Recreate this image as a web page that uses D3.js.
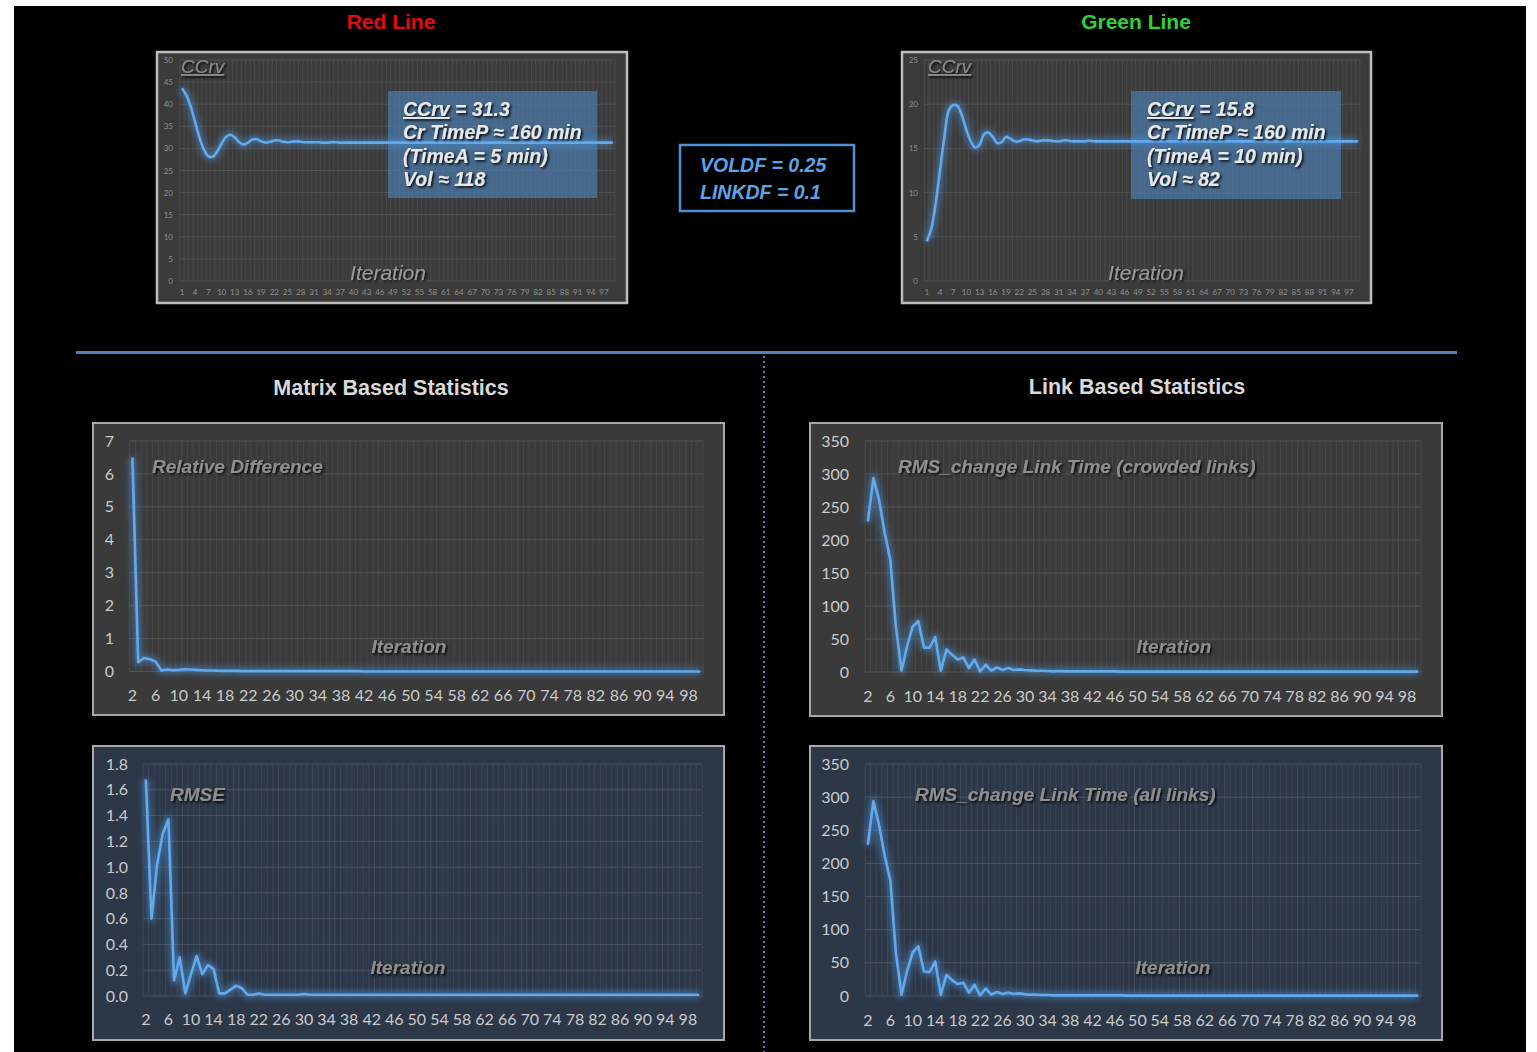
<!DOCTYPE html>
<html>
<head>
<meta charset="utf-8">
<script src="https://cdn.jsdelivr.net/npm/d3@7"></script>
<style>
  html, body { margin: 0; padding: 0; background: #ffffff; }
  svg { display: block; }
</style>
</head>
<body>
<svg id="chart" width="1537" height="1052"></svg>
<script>
// ---------- data ----------
// Iteration numbers
const ccrvIterations = d3.range(1, 100);      // 1 .. 99
const statIterations = d3.range(2, 101);      // 2 .. 100

// CCrv convergence, red line
const ccrvRed = [
  43.6,42.0,39.4,35.9,32.4,29.7,28.2,28.1,29.3,31.1,
  32.6,33.1,32.5,31.4,30.9,31.3,32.0,32.1,31.6,31.3,
  31.5,31.8,31.8,31.5,31.4,31.5,31.6,31.5,31.4,31.4,
  31.4,31.4,31.3,31.3,31.4,31.4,31.3,31.3,31.3,31.3,
  31.3,31.3,31.3,31.3,31.3,31.3,31.3,31.3,31.3,31.3,
  31.3,31.3,31.3,31.3,31.3,31.3,31.3,31.3,31.3,31.3,
  31.3,31.3,31.3,31.3,31.3,31.3,31.3,31.3,31.3,31.3,
  31.3,31.3,31.3,31.3,31.3,31.3,31.3,31.3,31.3,31.3,
  31.3,31.3,31.3,31.3,31.3,31.3,31.3,31.3,31.3,31.3,
  31.3,31.3,31.3,31.3,31.3,31.3,31.3,31.3,31.3
];

// CCrv convergence, green line
const ccrvGreen = [
  4.5,5.9,8.7,12.5,16.3,19.3,19.9,19.8,18.7,17.1,
  15.8,15.1,15.4,16.6,16.8,16.3,15.6,15.7,16.3,16.1,
  15.8,15.8,16.0,16.0,15.9,15.8,15.9,15.9,15.9,15.8,
  15.8,15.9,15.9,15.8,15.8,15.8,15.8,15.9,15.8,15.8,
  15.8,15.8,15.8,15.8,15.8,15.8,15.8,15.8,15.8,15.8,
  15.8,15.8,15.8,15.8,15.8,15.8,15.8,15.8,15.8,15.8,
  15.8,15.8,15.8,15.8,15.8,15.8,15.8,15.8,15.8,15.8,
  15.8,15.8,15.8,15.8,15.8,15.8,15.8,15.8,15.8,15.8,
  15.8,15.8,15.8,15.8,15.8,15.8,15.8,15.8,15.8,15.8,
  15.8,15.8,15.8,15.8,15.8,15.8,15.8,15.8,15.8
];

// Matrix based: relative difference
const relativeDifference = [
  6.5,0.28,0.41,0.37,0.30,0.03,0.06,0.04,0.05,0.07,
  0.06,0.05,0.04,0.03,0.03,0.02,0.02,0.02,0.02,0.01,
  0.01,0.01,0.01,0.01,0.01,0.01,0.01,0.01,0.01,0.01,
  0.01,0.01,0.01,0.01,0.01,0.01,0.01,0.01,0.01,0.01,
  0.0,0.0,0.0,0.0,0.0,0.0,0.0,0.0,0.0,0.0,
  0.0,0.0,0.0,0.0,0.0,0.0,0.0,0.0,0.0,0.0,
  0.0,0.0,0.0,0.0,0.0,0.0,0.0,0.0,0.0,0.0,
  0.0,0.0,0.0,0.0,0.0,0.0,0.0,0.0,0.0,0.0,
  0.0,0.0,0.0,0.0,0.0,0.0,0.0,0.0,0.0,0.0,
  0.0,0.0,0.0,0.0,0.0,0.0,0.0,0.0,0.0
];

// Matrix based: RMSE
const rmse = [
  1.68,0.60,1.02,1.26,1.37,0.12,0.30,0.02,0.17,0.31,
  0.17,0.24,0.21,0.02,0.02,0.05,0.08,0.06,0.01,0.01,
  0.02,0.01,0.01,0.01,0.01,0.01,0.01,0.01,0.015,0.01,
  0.01,0.01,0.01,0.01,0.01,0.01,0.01,0.01,0.01,0.01,
  0.01,0.01,0.01,0.01,0.01,0.01,0.01,0.01,0.01,0.01,
  0.01,0.01,0.01,0.01,0.01,0.01,0.01,0.01,0.01,0.01,
  0.01,0.01,0.01,0.01,0.01,0.01,0.01,0.01,0.01,0.01,
  0.01,0.01,0.01,0.01,0.01,0.01,0.01,0.01,0.01,0.01,
  0.01,0.01,0.01,0.01,0.01,0.01,0.01,0.01,0.01,0.01,
  0.01,0.01,0.01,0.01,0.01,0.01,0.01,0.01,0.01
];

// Link based: RMS change of link time, crowded links
const rmsCrowded = [
  228,294,261,211,170,69,2,39,69,77,
  37,37,53,2,34,26,19,22,6,19,
  1,11,2,7,3,6,3,4,3,2.5,
  2,2,1.5,1,1.5,1,1,1,1,1,
  1,1,1,1,1,0.5,0.5,0.5,0.5,0.5,
  0.5,0.5,0.5,0.5,0.5,0.5,0.5,0.5,0.5,0.5,
  0.5,0.5,0.5,0.5,0.5,0.5,0.5,0.5,0.5,0.5,
  0.5,0.5,0.5,0.5,0.5,0.5,0.5,0.5,0.5,0.5,
  0.5,0.5,0.5,0.5,0.5,0.5,0.5,0.5,0.5,0.5,
  0.5,0.5,0.5,0.5,0.5,0.5,0.5,0.5,0.5
];

// Link based: RMS change of link time, all links
const rmsAll = [
  228,294,258,212,175,65,2,38,66,75,
  37,36,52,2,32,24,18,20,5,17,
  1,11,2,6,3,5,3,4,2.5,2,
  2,1.5,1.5,1,1,1,1,1,1,1,
  1,1,1,1,1,1,0.5,0.5,0.5,0.5,
  0.5,0.5,0.5,0.5,0.5,0.5,0.5,0.5,0.5,0.5,
  0.5,0.5,0.5,0.5,0.5,0.5,0.5,0.5,0.5,0.5,
  0.5,0.5,0.5,0.5,0.5,0.5,0.5,0.5,0.5,0.5,
  0.5,0.5,0.5,0.5,0.5,0.5,0.5,0.5,0.5,0.5,
  0.5,0.5,0.5,0.5,0.5,0.5,0.5,0.5,0.5
];

// Axis ticks
const ticksRed = [0,5,10,15,20,25,30,35,40,45,50];
const ticksGreen = [0,5,10,15,20,25];
const ticksRelDiff = [0,1,2,3,4,5,6,7];
const ticksRmse = [0,0.2,0.4,0.6,0.8,1.0,1.2,1.4,1.6,1.8];
const ticksRms = [0,50,100,150,200,250,300,350];

// Text blocks
const redInfo = ["CCrv = 31.3", "Cr TimeP \u2248 160 min", "(TimeA = 5 min)", "Vol \u2248 118"];
const greenInfo = ["CCrv = 15.8", "Cr TimeP \u2248 160 min", "(TimeA = 10 min)", "Vol \u2248 82"];
const dampingLines = ["VOLDF = 0.25", "LINKDF = 0.1"];

// ---------- drawing ----------
const svg = d3.select("#chart");
const defs = svg.append("defs");

const glow = defs.append("filter").attr("id", "glow")
  .attr("filterUnits", "userSpaceOnUse")
  .attr("x", 0).attr("y", 0).attr("width", 1537).attr("height", 1052);
glow.append("feGaussianBlur").attr("stdDeviation", 3.4);

const shadow = defs.append("filter").attr("id", "shadow")
  .attr("filterUnits", "userSpaceOnUse")
  .attr("x", 0).attr("y", 0).attr("width", 1537).attr("height", 1052);
shadow.append("feDropShadow").attr("dx", 1.6).attr("dy", 1.6)
  .attr("stdDeviation", 0.9).attr("flood-color", "#000").attr("flood-opacity", 0.9);

// page background
svg.append("rect").attr("x", 14).attr("y", 6).attr("width", 1512).attr("height", 1046).attr("fill", "#000");

const ARIAL = "'Liberation Sans', Arial, sans-serif";
const CALIBRI = "Lato, 'Open Sans', sans-serif";

function drawPanel(cfg) {
  const g = svg.append("g");
  const [bx, by, bw, bh] = cfg.box;
  g.append("rect").attr("x", bx).attr("y", by).attr("width", bw).attr("height", bh)
    .attr("fill", cfg.bg).attr("stroke", cfg.border).attr("stroke-width", cfg.borderW);

  const x = d3.scaleBand().domain(cfg.cats).range([cfg.x0, cfg.x1]);
  const y = d3.scaleLinear().domain([0, d3.max(cfg.yTicks)]).range([cfg.yBottom, cfg.yTop]);
  const half = x.bandwidth() / 2;

  // vertical grid lines on category boundaries
  const edges = cfg.cats.map(c => x(c)).concat([cfg.x1]);
  g.append("g").selectAll("line").data(edges).join("line")
    .attr("x1", d => d).attr("x2", d => d)
    .attr("y1", cfg.yTop).attr("y2", cfg.yBottom)
    .attr("stroke", cfg.vgrid).attr("stroke-width", 1);

  // horizontal grid lines
  g.append("g").selectAll("line").data(cfg.yTicks).join("line")
    .attr("x1", cfg.x0).attr("x2", cfg.x1)
    .attr("y1", d => y(d)).attr("y2", d => y(d))
    .attr("stroke", cfg.hgrid).attr("stroke-width", 1);

  // y axis labels
  const yAxis = d3.axisLeft(y).tickValues(cfg.yTicks).tickSize(0).tickPadding(0).tickFormat(cfg.yFmt);
  const yg = g.append("g").attr("transform", `translate(${cfg.yLabelX},0)`).call(yAxis)
    .attr("font-family", CALIBRI).attr("font-size", cfg.labelSize).attr("color", cfg.labelColor);
  yg.select(".domain").remove();

  // x axis labels
  const xAxis = d3.axisBottom(x).tickValues(cfg.cats.filter((c, i) => i % cfg.step === 0))
    .tickSize(0).tickPadding(0);
  const xg = g.append("g").attr("transform", `translate(0,${cfg.xLabelY})`).call(xAxis)
    .attr("font-family", CALIBRI).attr("font-size", cfg.labelSize).attr("color", cfg.labelColor);
  xg.select(".domain").remove();

  // optional info box (under the line)
  if (cfg.info) {
    const b = cfg.info;
    g.append("rect").attr("x", b.x).attr("y", b.y).attr("width", b.w).attr("height", b.h)
      .attr("fill", "#4a7aaa").attr("opacity", 0.72);
  }

  // series line with soft glow
  const pts = cfg.cats.map((c, i) => [x(c) + half, y(cfg.values[i])]);
  const line = d3.line().curve(cfg.curve);
  g.append("path").attr("d", line(pts)).attr("fill", "none")
    .attr("stroke", "#4f98e0").attr("stroke-width", 7.5).attr("opacity", 0.5)
    .attr("stroke-linejoin", "round").attr("filter", "url(#glow)");
  g.append("path").attr("d", line(pts)).attr("fill", "none")
    .attr("stroke", "#62a9ee").attr("stroke-width", 2.6).attr("stroke-linejoin", "round");

  if (cfg.info) {
    const b = cfg.info;
    const t = g.append("text").attr("font-family", ARIAL).attr("font-style", "italic")
      .attr("font-weight", "bold").attr("font-size", 19.5).attr("fill", "#e8e8e8")
      .attr("filter", "url(#shadow)");
    b.lines.forEach((s, i) => {
      const ts = t.append("tspan").attr("x", b.tx).attr("y", b.ty + i * 23.3);
      if (i === 0) {
        const k = s.indexOf(" ");
        ts.append("tspan").attr("text-decoration", "underline").text(s.slice(0, k));
        ts.append("tspan").text(s.slice(k));
      } else {
        ts.text(s);
      }
    });
  }

  // in-chart titles
  cfg.titles.forEach(tt => {
    const t = g.append("text").attr("x", tt.x).attr("y", tt.y)
      .attr("text-anchor", tt.anchor || "start")
      .attr("font-family", ARIAL).attr("font-style", "italic")
      .attr("font-weight", tt.weight || "bold").attr("font-size", tt.size)
      .attr("fill", tt.color || "#8e8e8e").attr("filter", "url(#shadow)")
      .text(tt.text);
    if (tt.underline) t.attr("text-decoration", "underline");
  });
}

// ---- top: CCrv charts ----
const topCommon = {
  cats: ccrvIterations, step: 3, curve: d3.curveCatmullRom.alpha(0.5),
  bg: "#3b3b3b", border: "#bdbdbd", borderW: 2.5,
  vgrid: "#4a4a4a", hgrid: "#525252",
  labelSize: 8, labelColor: "#8f8f8f", xLabelY: 289
};

drawPanel(Object.assign({}, topCommon, {
  box: [157, 52, 470, 251],
  x0: 179.8, x1: 615, yTop: 60, yBottom: 281,
  yTicks: ticksRed, yFmt: d3.format("d"), yLabelX: 173,
  values: ccrvRed,
  info: { x: 388, y: 91, w: 209, h: 107, tx: 403, ty: 116, lines: redInfo },
  titles: [
    { text: "CCrv", x: 181, y: 73, size: 19, weight: "normal", underline: true, color: "#8a8a8a" },
    { text: "Iteration", x: 388, y: 280, size: 21, weight: "normal", anchor: "middle", color: "#9a9a9a" }
  ]
}));

drawPanel(Object.assign({}, topCommon, {
  box: [902, 52, 469, 251],
  x0: 924.6, x1: 1360, yTop: 60, yBottom: 281,
  yTicks: ticksGreen, yFmt: d3.format("d"), yLabelX: 918,
  values: ccrvGreen,
  info: { x: 1131, y: 91, w: 210, h: 108, tx: 1147, ty: 116, lines: greenInfo },
  titles: [
    { text: "CCrv", x: 928, y: 73, size: 19, weight: "normal", underline: true, color: "#8a8a8a" },
    { text: "Iteration", x: 1146, y: 280, size: 21, weight: "normal", anchor: "middle", color: "#9a9a9a" }
  ]
}));

// ---- bottom: statistics charts ----
const statCommon = {
  cats: statIterations, step: 4, curve: d3.curveLinear,
  borderW: 2, labelSize: 16, labelColor: "#cacaca"
};
const grayPanel = { bg: "#3a3a3a", border: "#a8a8a8", vgrid: "#484848", hgrid: "#545454" };
const bluePanel = { bg: "#2c3747", border: "#a8a8a8", vgrid: "#3d4756", hgrid: "#4b5461" };

drawPanel(Object.assign({}, statCommon, grayPanel, {
  box: [93, 423, 631, 292],
  x0: 129.5, x1: 703, yTop: 441, yBottom: 671.5,
  yTicks: ticksRelDiff, yFmt: d3.format("d"), yLabelX: 114, xLabelY: 690,
  values: relativeDifference,
  titles: [
    { text: "Relative Difference", x: 152, y: 473, size: 19 },
    { text: "Iteration", x: 409, y: 653, size: 19, anchor: "middle" }
  ]
}));

drawPanel(Object.assign({}, statCommon, grayPanel, {
  box: [810, 423, 632, 293],
  x0: 865, x1: 1421, yTop: 441, yBottom: 672,
  yTicks: ticksRms, yFmt: d3.format("d"), yLabelX: 849, xLabelY: 691,
  values: rmsCrowded,
  titles: [
    { text: "RMS_change Link Time (crowded links)", x: 898, y: 473, size: 19 },
    { text: "Iteration", x: 1174, y: 653, size: 19, anchor: "middle" }
  ]
}));

drawPanel(Object.assign({}, statCommon, bluePanel, {
  box: [93, 746, 631, 294],
  x0: 143, x1: 702, yTop: 764, yBottom: 996,
  yTicks: ticksRmse, yFmt: d3.format(".1f"), yLabelX: 128, xLabelY: 1014,
  values: rmse,
  titles: [
    { text: "RMSE", x: 170, y: 801, size: 19 },
    { text: "Iteration", x: 408, y: 974, size: 19, anchor: "middle" }
  ]
}));

drawPanel(Object.assign({}, statCommon, bluePanel, {
  box: [810, 746, 632, 294],
  x0: 865, x1: 1421, yTop: 764, yBottom: 996,
  yTicks: ticksRms, yFmt: d3.format("d"), yLabelX: 849, xLabelY: 1015,
  values: rmsAll,
  titles: [
    { text: "RMS_change Link Time (all links)", x: 915, y: 801, size: 19 },
    { text: "Iteration", x: 1173, y: 974, size: 19, anchor: "middle" }
  ]
}));

// ---- headings, separators and parameter box ----
svg.append("text").attr("x", 391).attr("y", 29).attr("text-anchor", "middle")
  .attr("font-family", ARIAL).attr("font-weight", "bold").attr("font-size", 21)
  .attr("fill", "#e30c0c").text("Red Line");
svg.append("text").attr("x", 1136).attr("y", 29).attr("text-anchor", "middle")
  .attr("font-family", ARIAL).attr("font-weight", "bold").attr("font-size", 21)
  .attr("fill", "#33d033").text("Green Line");

svg.append("text").attr("x", 391).attr("y", 395).attr("text-anchor", "middle")
  .attr("font-family", ARIAL).attr("font-weight", "bold").attr("font-size", 21.5)
  .attr("fill", "#d9d9d9").text("Matrix Based Statistics");
svg.append("text").attr("x", 1137).attr("y", 394).attr("text-anchor", "middle")
  .attr("font-family", ARIAL).attr("font-weight", "bold").attr("font-size", 21.5)
  .attr("fill", "#d9d9d9").text("Link Based Statistics");

svg.append("line").attr("x1", 76).attr("x2", 1457).attr("y1", 352.5).attr("y2", 352.5)
  .attr("stroke", "#4f81bd").attr("stroke-width", 3);
svg.append("line").attr("x1", 764).attr("x2", 764).attr("y1", 356).attr("y2", 1052)
  .attr("stroke", "#4f81bd").attr("stroke-width", 2).attr("stroke-dasharray", "2,3");

svg.append("rect").attr("x", 680).attr("y", 145).attr("width", 174).attr("height", 66)
  .attr("fill", "none").attr("stroke", "#4f8fd6").attr("stroke-width", 2.5);
const dt = svg.append("text").attr("font-family", ARIAL).attr("font-style", "italic")
  .attr("font-weight", "bold").attr("font-size", 19.5).attr("fill", "#5ea3e6");
dampingLines.forEach((s, i) => {
  dt.append("tspan").attr("x", 700).attr("y", 172 + i * 26.5).text(s);
});
</script>
</body>
</html>
